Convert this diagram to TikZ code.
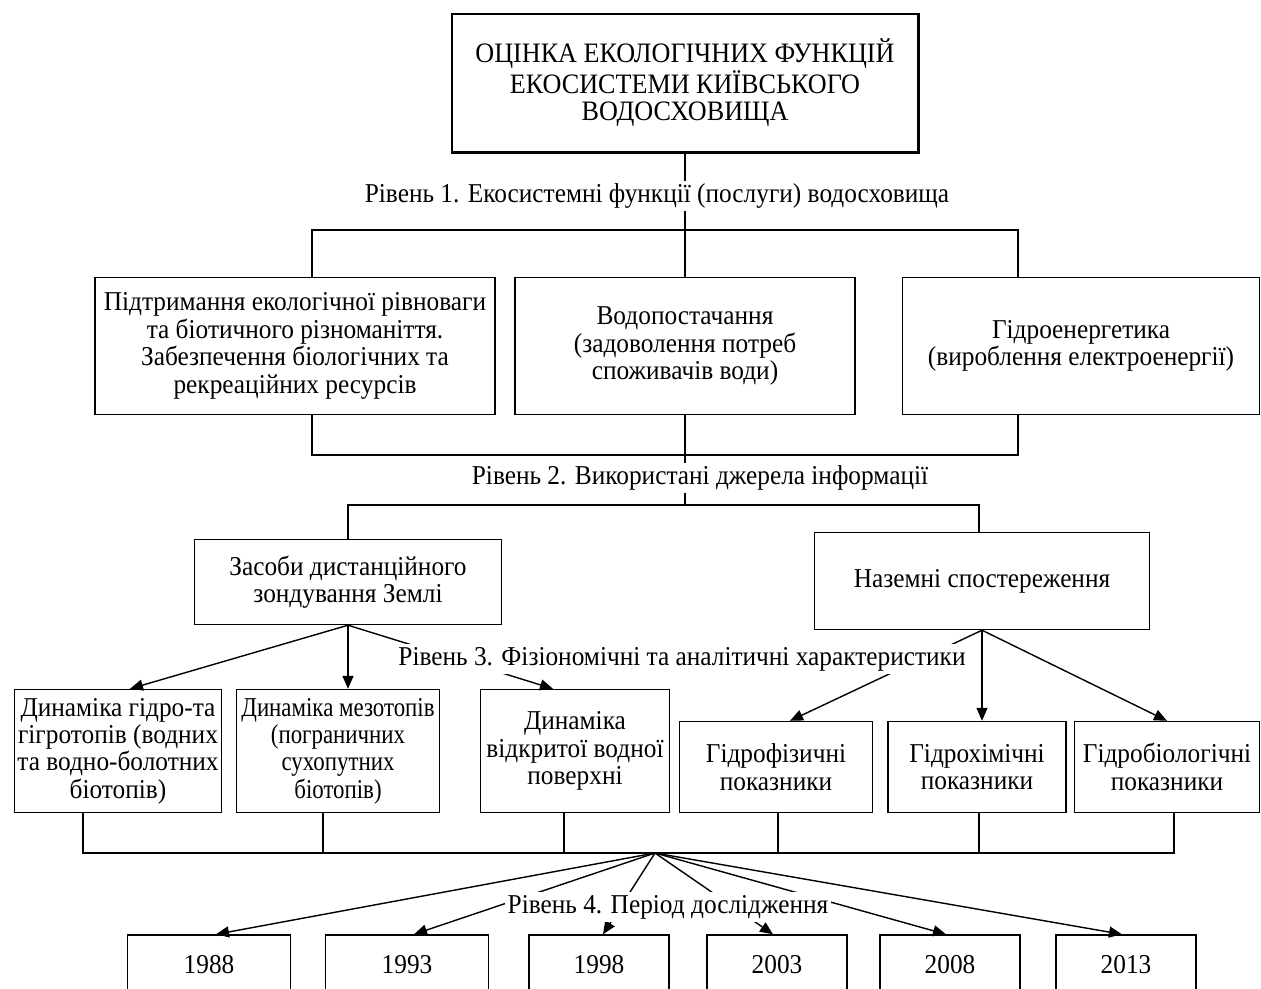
\documentclass[tikz,border=0pt]{standalone}
\usepackage{fontspec}
\setmainfont[FakeStretch=0.93]{Liberation Serif}
\newfontfamily\narrowfont[FakeStretch=0.84]{Liberation Serif}
\usetikzlibrary{arrows.meta,positioning}

\begin{document}
\begin{tikzpicture}[x=0.02cm, y=-0.02cm,
    wh/.style 2 args={minimum width=#1*0.02cm, minimum height=#2*0.02cm},
    boxNode/.style={draw, line width=0.8pt, align=center, inner sep=1pt, font=\fontsize{15.5}{15.6}\selectfont},
    titleNode/.style={boxNode, line width=1.7pt, font=\fontsize{16}{15.6}\selectfont},
    levelNode/.style={fill=white, inner sep=1.5pt, font=\fontsize{15.5}{15.6}\selectfont},
    line/.style={line width=0.8pt},
    arrow/.style={-{Triangle[length=2.6mm, width=2.2mm]}, line width=0.8pt}]

  \clip (0,0) rectangle (1261,988);

  % Title
  \node[titleNode, wh={466}{138}] (title) at (685,83) {ОЦІНКА ЕКОЛОГІЧНИХ ФУНКЦІЙ\\ЕКОСИСТЕМИ КИЇВСЬКОГО\\ВОДОСХОВИЩА};

  % Level 1 boxes
  \node[boxNode, wh={400}{137}] (eco) at (295,346) {Підтримання екологічної рівноваги\\та біотичного різноманіття.\\Забезпечення біологічних та\\рекреаційних ресурсів};
  \node[boxNode, wh={340}{137}] (water) at (685,346) {Водопостачання\\(задоволення потреб\\споживачів води)};
  \node[boxNode, wh={357}{137}] (power) at (1081,346) {Гідроенергетика\\(вироблення електроенергії)};

  % Level 2 boxes
  \node[boxNode, wh={307}{85}] (remote) at (348,582) {Засоби дистанційного\\зондування Землі};
  \node[boxNode, wh={335}{97}] (ground) at (982,581) {Наземні спостереження};

  % Level 3 boxes
  \node[boxNode, wh={207}{123}] (hydro) at (118,751) {Динаміка гідро-та\\гігротопів (водних\\та водно-болотних\\біотопів)};
  \node[boxNode, wh={203}{123}, font=\narrowfont\fontsize{15.5}{15.6}\selectfont] (meso) at (338,751) {Динаміка мезотопів\\(пограничних\\сухопутних\\біотопів)};
  \node[boxNode, wh={189}{123}] (surface) at (575,751) {Динаміка\\відкритої водної\\поверхні};
  \node[boxNode, wh={193}{91}] (phys) at (776,767) {Гідрофізичні\\показники};
  \node[boxNode, wh={178}{91}] (chem) at (977,767) {Гідрохімічні\\показники};
  \node[boxNode, wh={185}{91}] (bio) at (1167,767) {Гідробіологічні\\показники};

  % Level 4 boxes
  \node[boxNode, wh={163}{60}] (y1988) at (209,965) {1988};
  \node[boxNode, wh={163}{60}] (y1993) at (407,965) {1993};
  \node[boxNode, wh={140}{60}] (y1998) at (599,965) {1998};
  \node[boxNode, wh={140}{60}] (y2003) at (777,965) {2003};
  \node[boxNode, wh={140}{60}] (y2008) at (950,965) {2008};
  \node[boxNode, wh={140}{60}] (y2013) at (1126,965) {2013};

  % Bus points
  \coordinate (busA) at (312,230);
  \coordinate (busB) at (1018,230);
  \coordinate (busC) at (312,455);
  \coordinate (busD) at (1018,455);
  \coordinate (busE) at (348,505);
  \coordinate (busF) at (979,505);
  \coordinate (busG) at (83,853);
  \coordinate (busH) at (1174,853);
  \coordinate (hub) at (655,853);

  % Lines
  \draw[line] (title) -- (water);
  \draw[line] (busA |- eco.north) -- (busA) -- (busB) -- (busB |- power.north);
  \draw[line] (busC |- eco.south) -- (busC) -- (busD) -- (busD |- power.south);
  \draw[line] (water) -- (water.south |- busE);
  \draw[line] (busE |- remote.north) -- (busE) -- (busF) -- (busF |- ground.north);
  \draw[line] (busG |- hydro.south) -- (busG) -- (busH) -- (busH |- bio.south);
  \draw[line] (323,0 |- meso.south) -- (323,853);
  \draw[line] (564,0 |- surface.south) -- (564,853);
  \draw[line] (778,0 |- phys.south) -- (778,853);
  \draw[line] (979,0 |- chem.south) -- (979,853);

  % Arrows
  \draw[arrow] (remote.south) -- ([xshift=0.24cm]hydro.north);
  \draw[arrow] (remote.south) -- (remote.south |- meso.north);
  \draw[arrow] (remote.south) -- ([xshift=-0.44cm]surface.north);
  \draw[arrow] (ground.south) -- ([xshift=0.28cm]phys.north);
  \draw[arrow] (ground.south) -- (ground.south |- chem.north);
  \draw[arrow] (ground.south) -- (bio.north);
  \draw[arrow] (hub) -- ([xshift=0.14cm]y1988.north);
  \draw[arrow] (hub) -- ([xshift=0.14cm]y1993.north);
  \draw[arrow] (hub) -- ([xshift=0.08cm]y1998.north);
  \draw[arrow] (hub) -- ([xshift=-0.08cm]y2003.north);
  \draw[arrow] (hub) -- ([xshift=-0.08cm]y2008.north);
  \draw[arrow] (hub) -- ([xshift=-0.08cm]y2013.north);

  % Level labels
  \node[levelNode] (lev1) at (657,196) {Рівень 1. Екосистемні функції (послуги) водосховища};
  \node[levelNode] (lev2) at (700,478) {Рівень 2. Використані джерела інформації};
  \node[levelNode] (lev3) at (682,659) {Рівень 3. Фізіономічні та аналітичні характеристики};
  \node[levelNode] (lev4) at (668,907) {Рівень 4. Період дослідження};

\end{tikzpicture}
\end{document}
